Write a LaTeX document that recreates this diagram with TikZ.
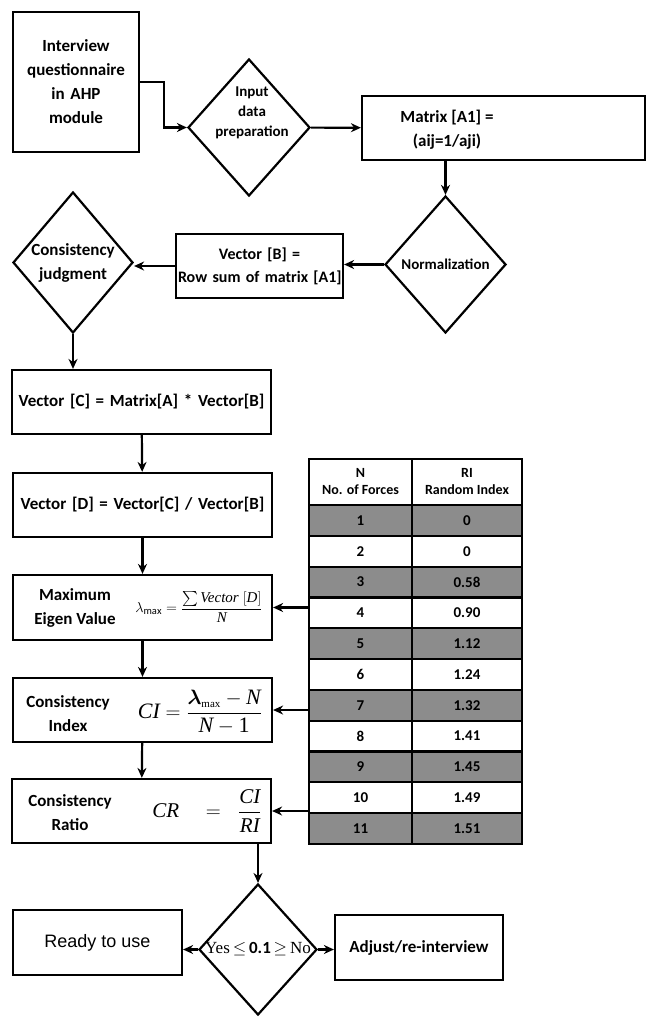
\documentclass[tikz,border=0pt]{standalone}
\usepackage{amsmath,amssymb}
\usepackage{fontspec}
\setmainfont{Carlito}
\newfontfamily\arialfont{Liberation Sans}
\newfontfamily\timesfont{Liberation Serif}
\usetikzlibrary{arrows.meta, shapes.geometric}
\newcommand{\tm}[1]{\text{\timesfont\mdseries\itshape #1}}
\newcommand{\tr}[1]{\text{\timesfont\mdseries #1}}
\definecolor{tabgray}{RGB}{140,140,140}

\begin{document}
\begin{tikzpicture}[
                > = {Stealth[length=10pt, width=9pt]}, % arrow head style
                x = 1pt, y = -1pt, % one unit is one pixel of the sheet
                line width = 2.2pt % line style
            ]

            \tikzstyle{every node}=[font=\bfseries\fontsize{17}{24}\selectfont, align=center]
            \tikzstyle{box}=[draw = black, rectangle, inner sep = 2pt]
            \tikzstyle{decision}=[draw = black, diamond, inner sep = -8pt]
            \tikzstyle{cell}=[draw = black, rectangle, inner sep = 0pt,
            minimum width = 103pt, minimum height = 30.8pt,
            font=\bfseries\fontsize{15}{17}\selectfont]

            \path[fill = white, use as bounding box] (0,0) rectangle (656,1017);

            \node[box, minimum width=126pt, minimum height=140pt, text width=122pt] (1) at (76,82) {Interview\\questionnaire\\in AHP\\module};
            \node[decision, minimum width=122pt, minimum height=137pt] (2) at (249,127.5) {};
            \node[font=\bfseries\fontsize{15}{20}\selectfont] (2t) at (252,113) {Input\\data\\preparation};
            \node[box, minimum width=283pt, minimum height=64pt] (3) at (503.5,128) {};
            \node (3t) at (447,130) {Matrix [A1] =\\(aij=1/aji)};
            \node[decision, minimum width=121pt, minimum height=137pt,
            font=\bfseries\fontsize{15}{20}\selectfont] (4) at (445.5,264.5) {Normalization};
            \node[box, minimum width=167pt, minimum height=64pt, text width=163pt,
            font=\bfseries\fontsize{16}{23}\selectfont] (5) at (259.5,266) {Vector [B] =\\\mbox{Row sum of matrix [A1]}};
            \node[decision, minimum width=120pt, minimum height=141pt] (6) at (73,262.5) {Consistency\\judgment};

            \node[box, minimum width=259pt, minimum height=64pt, text width=255pt] (7) at (141.5,402) {Vector [C] = Matrix[A] * Vector[B]};
            \node[box, minimum width=259pt, minimum height=64pt, text width=255pt] (8) at (142.5,505) {Vector [D] = Vector[C] / Vector[B]};
            \node[box, minimum width=259pt, minimum height=65pt] (9) at (142.5,607.5) {};
            \node (9a) at (75,608) {Maximum\\Eigen Value};
            \node[font=\fontsize{15}{18}\selectfont] (9b) at (199,607) {$\lambda_{\max} = \dfrac{\textstyle\sum \tm{Vector}\;[\tm{D}]}{\tm{N}}$};
            \node[box, minimum width=259pt, minimum height=64pt] (10) at (142.5,710) {};
            \node (10a) at (68,714) {Consistency\\Index};
            \node[font=\fontsize{22}{26}\selectfont] (10b) at (200,712) {$\tm{CI} = \dfrac{\boldsymbol{\lambda}_{\scriptscriptstyle\tr{max}} - \tm{N}}{\tm{N} - \tr{1}}$};
            \node[box, minimum width=259pt, minimum height=64pt] (11) at (141.5,811) {};
            \node (11a) at (70,813) {Consistency\\Ratio};
            \node[font=\fontsize{21}{24}\selectfont] (11b) at (207,811) {$\tm{CR}\quad=\;\;\dfrac{\tm{CI}}{\tm{RI}}$};

            \node[decision, minimum width=118pt, minimum height=131pt] (12) at (258,949.5) {{\timesfont\mdseries Yes}$\,\leq\,$0.1$\,\geq\,${\timesfont\mdseries No}};
            \node[box, minimum width=169pt, minimum height=65pt,
            font=\arialfont\fontsize{18}{20}\selectfont] (13) at (97.5,942.5) {Ready to use};
            \node[box, minimum width=168pt, minimum height=65pt] (14) at (419,947.5) {Adjust/re-interview};

            % random index table
            \node[cell, minimum height=46pt, font=\bfseries\fontsize{14}{17}\selectfont] (n0) at (360.5,482) {N\\No. of Forces};
            \node[cell, minimum width=110pt, minimum height=46pt, font=\bfseries\fontsize{14}{17}\selectfont] (r0) at (467,482) {RI\\Random Index};
            \foreach \n/\ri/\tone in {1/0/tabgray, 2/0/white, 3/0.58/tabgray, 4/0.90/white,
                5/1.12/tabgray, 6/1.24/white, 7/1.32/tabgray, 8/1.41/white,
                9/1.45/tabgray, 10/1.49/white, 11/1.51/tabgray}{
                \node[cell, fill=\tone] (n\n) at (360.5,{489.6+30.8*\n}) {\n};
                \node[cell, fill=\tone, minimum width=110pt] (r\n) at (467,{489.6+30.8*\n}) {\ri};
            }

            \draw[->] (1.east) -- ++(24,0) |- (2.west);
            \path[->] (2) edge (3);
            \draw[->] (4 |- 3.south) -- (4.north);
            \draw[->] (4.west) -- (4.west -| 5.east);
            \draw[->] (5.west) -- (5.west -| 6.east);
            \draw[->] (6.south) -- (6.south |- 7.north);
            \path[->] (7) edge (8); \path[->] (8) edge (9);
            \path[->] (9) edge (10); \path[->] (10) edge (11);
            \draw[->] (12 |- 11.south) -- (12.north);
            \draw[->] (12.west) -- (12.west -| 13.east);
            \draw[->] (12.east) -- (12.east -| 14.west);
            \draw[->] (n4.west |- 9) -- (9.east);
            \draw[->] (n7.west |- 10) -- (10.east);
            \draw[->] (n10.west |- 11) -- (11.east);

        \end{tikzpicture}
\end{document}
